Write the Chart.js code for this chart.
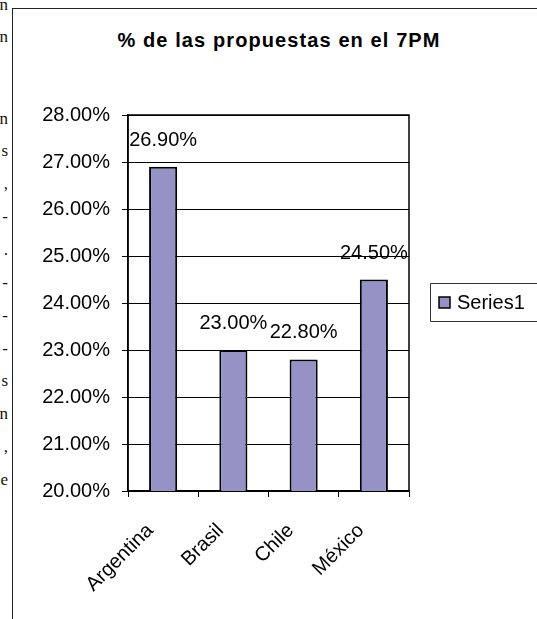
<!DOCTYPE html>
<html>
<head>
<meta charset="utf-8">
<title>% de las propuestas en el 7PM</title>
<script src="https://cdn.jsdelivr.net/npm/chart.js@4.4.1/dist/chart.umd.min.js"></script>
<style>
  html, body { margin: 0; padding: 0; background: #fff; }
  body { width: 537px; height: 619px; position: relative; overflow: hidden; }
  #frame {
    position: absolute; left: 12px; top: 8px; width: 600px; height: 700px;
    border: 1.5px solid #222; box-sizing: border-box;
  }
  #chartTitle {
    position: absolute; left: 0; top: 30px; width: 558px; text-align: center;
    font: bold 20px "Liberation Sans", Arial, sans-serif; line-height: 20px;
    letter-spacing: 1.1px; color: #000;
  }
  #chartWrap { position: absolute; left: 0; top: 0; width: 537px; height: 619px; }
  .cut { position: absolute; right: 529px; font: 17px "Liberation Serif", "Times New Roman", serif; line-height: 16px; color: #111; }
</style>
</head>
<body>
<!-- clipped words from the neighbouring text column of the page -->
<span class="cut" style="top:-3px">n</span>
<span class="cut" style="top:29px">n</span>
<span class="cut" style="top:111px">n</span>
<span class="cut" style="top:143px">s</span>
<span class="cut" style="top:176px">,</span>
<span class="cut" style="top:209px">-</span>
<span class="cut" style="top:242px">.</span>
<span class="cut" style="top:275px">-</span>
<span class="cut" style="top:308px">-</span>
<span class="cut" style="top:341px">-</span>
<span class="cut" style="top:373px">s</span>
<span class="cut" style="top:406px">n</span>
<span class="cut" style="top:439px">,</span>
<span class="cut" style="top:472px">e</span>

<div id="frame"></div>
<div id="chartTitle"></div>
<div id="chartWrap"><canvas id="propChart"></canvas></div>

<script>
const titleText = "% de las propuestas en el 7PM";
const categories = ["Argentina", "Brasil", "Chile", "México"];
const seriesName = "Series1";
const seriesValues = [26.9, 23.0, 22.8, 24.5];
const yTicks = [20, 21, 22, 23, 24, 25, 26, 27, 28];

const barFill = "#9592c6";
const fontFamily = '"Liberation Sans", Arial, sans-serif';

const pct = (v) => Number(v).toFixed(2) + "%";

document.getElementById("chartTitle").textContent = titleText;

Chart.defaults.font.family = fontFamily;
Chart.defaults.color = "#000";

// black box round the plot area
const plotFrame = {
    id: "plotFrame",
    beforeDatasetsDraw(chart) {
        const { ctx, chartArea: a } = chart;
        ctx.save();
        ctx.strokeStyle = "#000";
        ctx.lineWidth = 1.5;
        ctx.strokeRect(a.left, a.top, a.right - a.left, a.bottom - a.top);
        ctx.restore();
    },
};

// value over each bar
const valueLabels = {
    id: "valueLabels",
    afterDatasetsDraw(chart) {
        const { ctx } = chart;
        const meta = chart.getDatasetMeta(0);
        ctx.save();
        ctx.font = "20px " + fontFamily;
        ctx.fillStyle = "#000";
        ctx.textAlign = "center";
        ctx.textBaseline = "alphabetic";
        meta.data.forEach((bar, i) => {
            ctx.fillText(pct(seriesValues[i]), bar.x, bar.y - 21);
        });
        ctx.restore();
    },
};

// boxed legend on the right, cut by the page edge
const boxLegend = {
    id: "boxLegend",
    afterDraw(chart) {
        const { ctx } = chart;
        const ds = chart.data.datasets[0];
        ctx.save();
        ctx.strokeStyle = "#333";
        ctx.lineWidth = 1;
        ctx.beginPath();
        ctx.moveTo(560, 283.5);
        ctx.lineTo(430.5, 283.5);
        ctx.lineTo(430.5, 321.5);
        ctx.lineTo(560, 321.5);
        ctx.stroke();
        ctx.fillStyle = ds.backgroundColor;
        ctx.fillRect(439, 297, 11, 11);
        ctx.strokeStyle = "#000";
        ctx.lineWidth = 1.5;
        ctx.strokeRect(439, 297, 11, 11);
        ctx.fillStyle = "#000";
        ctx.font = "20px " + fontFamily;
        ctx.textBaseline = "middle";
        ctx.fillText(ds.label, 457, 303);
        ctx.restore();
    },
};

new Chart(document.getElementById("propChart"), {
    type: "bar",
    data: {
        labels: categories,
        datasets: [
            {
                label: seriesName,
                data: seriesValues,
                backgroundColor: barFill,
                borderColor: "#000",
                borderWidth: 2,
                barPercentage: 0.8,
                categoryPercentage: 0.5,
            },
        ],
    },
    options: {
        responsive: true,
        maintainAspectRatio: false,
        animation: false,
        layout: { padding: { top: 115, right: 128, bottom: 0, left: 0 } },
        scales: {
            x: {
                ticks: {
                    font: { size: 20 },
                    color: "#000",
                    minRotation: 45,
                    maxRotation: 45,
                    autoSkip: false,
                    padding: 22,
                    labelOffset: -13,
                },
                grid: { drawOnChartArea: false, drawTicks: true, tickLength: 6, color: "#000", offset: true },
                border: { color: "#000", width: 1.5 },
                afterFit(scale) {
                    scale.height = 128;
                },
            },
            y: {
                min: yTicks[0],
                max: yTicks[yTicks.length - 1],
                afterBuildTicks(scale) {
                    scale.ticks = yTicks.map((v) => ({ value: v }));
                },
                ticks: {
                    font: { size: 20 },
                    color: "#000",
                    padding: 12,
                    callback: (v) => pct(v),
                },
                grid: { color: "#000", lineWidth: 1, drawTicks: true, tickLength: 6 },
                border: { color: "#000", width: 1.5 },
                afterFit(scale) {
                    scale.width = 128;
                },
            },
        },
        plugins: {
            legend: { display: false },
            title: { display: false },
            tooltip: { enabled: false },
        },
    },
    plugins: [plotFrame, valueLabels, boxLegend],
});
</script>
</body>
</html>
